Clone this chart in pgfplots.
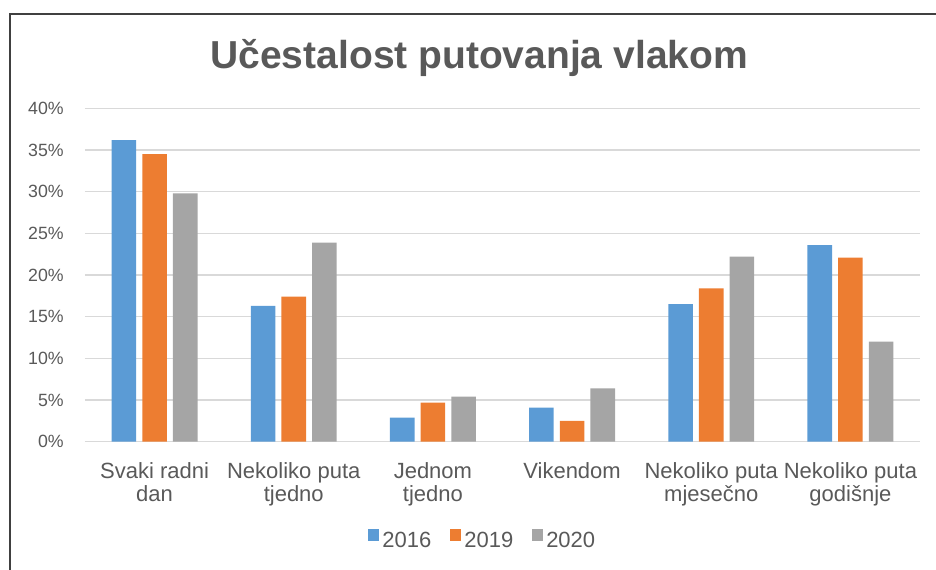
\documentclass[border=0pt]{standalone}
\usepackage{pgfplots}
\pgfplotsset{compat=1.18}
\usepackage{fontspec}
\setmainfont{Liberation Sans}
\definecolor{c16}{HTML}{5B9BD5}
\definecolor{c19}{HTML}{ED7D31}
\definecolor{c20}{HTML}{A5A5A5}
\definecolor{txt}{HTML}{595959}
\definecolor{grd}{HTML}{D9D9D9}
\begin{document}
\begin{tikzpicture}
\useasboundingbox (0,0) rectangle (702pt,426.75pt);
\draw[line width=1.5pt, black!75] (7.5pt,-2pt) -- (7.5pt,416.25pt) -- (710pt,416.25pt);
\begin{axis}[
  at={(63.75pt,95.5pt)}, anchor=south west,
  scale only axis, width=626.25pt, height=250pt,
  ymin=0, ymax=40, xmin=-0.5, xmax=5.5,
  ybar=4.6pt, bar width=18.4pt,
  /pgf/number format/assume math mode=true,
  ytick={0,5,...,40},
  yticklabels={0\%,5\%,10\%,15\%,20\%,25\%,30\%,35\%,40\%},
  xtick={0,...,5},
  xticklabels={{Svaki radni\\dan},{Nekoliko puta\\tjedno},{Jednom\\tjedno},{Vikendom},{Nekoliko puta\\mjesečno},{Nekoliko puta\\godišnje}},
  ymajorgrids,
  major grid style={draw=grd, line width=1.1pt},
  axis line style={draw=none},
  tick style={draw=none},
  major tick length=0pt,
  yticklabel style={font=\fontsize{13.3}{15}\selectfont, text=txt, anchor=east, inner sep=0pt, xshift=-15.75pt},
  xticklabel style={font=\fontsize{16.5}{17.25}\selectfont, text=txt, align=center, anchor=north, inner sep=0pt, yshift=-15.2pt},
  every axis title shift=0pt,
  title={Učestalost putovanja vlakom},
  title style={at={(axis description cs:0.4721,1.12)}, anchor=base, inner sep=0pt, font=\bfseries\fontsize{29.25}{30}\selectfont, text=txt},
  legend columns=3,
  legend image code/.code={\fill[#1] (0pt,0pt) rectangle (8.25pt,9pt);},
  legend style={at={(axis description cs:0.4766,-0.2978)}, anchor=center, draw=none, fill=none, inner sep=0pt,
    font=\fontsize{16.5}{18}\selectfont, text=txt,
    cells={inner sep=0pt},
    /tikz/every odd column/.append style={column sep=0.5pt},
    /tikz/every even column/.append style={column sep=12pt}},
]
\addplot[fill=c16, draw=none] coordinates {(0,36.2) (1,16.3) (2,2.9) (3,4.1) (4,16.5) (5,23.6)};
\addplot[fill=c19, draw=none] coordinates {(0,34.5) (1,17.4) (2,4.7) (3,2.5) (4,18.4) (5,22.1)};
\addplot[fill=c20, draw=none] coordinates {(0,29.8) (1,23.9) (2,5.4) (3,6.4) (4,22.2) (5,12.0)};
\legend{2016,2019,2020}
\end{axis}
\end{tikzpicture}
\end{document}
